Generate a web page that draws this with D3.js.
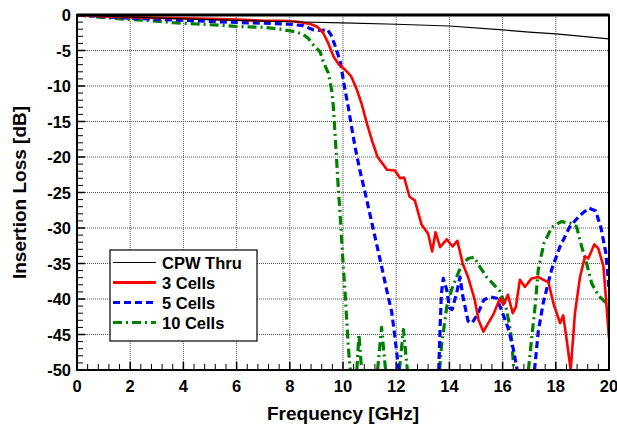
<!DOCTYPE html>
<html><head><meta charset="utf-8">
<script src="https://cdn.jsdelivr.net/npm/d3@7/dist/d3.min.js"></script>
<style>
body{margin:0;background:#fff;}
text{font-family:"Liberation Sans",Arial,sans-serif;font-weight:bold;}
</style></head><body>
<svg id="c" width="617" height="425"></svg>
<script>
const xTicks = [0,2,4,6,8,10,12,14,16,18,20];
const yTicks = [0,-5,-10,-15,-20,-25,-30,-35,-40,-45,-50];
const seriesNames = ["CPW Thru","3 Cells","5 Cells","10 Cells"];

const cpwThru = [[0,0],[1,-0.15],[2,-0.3],[4,-0.55],[6,-0.75],[8,-0.95],[10,-1.1],[12,-1.3],[14,-1.55],[16,-2.1],[17,-2.4],[18,-2.65],[19,-3.0],[20,-3.35]];

const cells3 = [[0,0],[0.5,-0.1],[1,-0.2],[2,-0.3],[3,-0.4],[4,-0.45],[5,-0.55],[6,-0.65],[7,-0.8],[7.8,-0.8],[8.3,-0.95],[8.8,-1.3],[9.05,-1.7],[9.25,-2.5],[9.45,-4.0],[9.65,-5.9],[9.85,-7.0],[10.05,-7.6],[10.3,-8.6],[10.5,-10.3],[10.7,-12.5],[10.9,-15.3],[11.1,-17.8],[11.3,-20.0],[11.5,-21.0],[11.65,-21.8],[11.95,-21.9],[12.15,-23],[12.3,-22.9],[12.5,-25.6],[12.7,-26.1],[12.95,-29.5],[13.2,-30.8],[13.35,-33.3],[13.48,-30.6],[13.65,-32.7],[13.9,-31.6],[14.12,-32.6],[14.3,-31.8],[14.5,-35],[14.7,-36.9],[14.95,-40.1],[15.1,-43],[15.28,-44.6],[15.46,-43.4],[15.65,-42.2],[15.9,-39.9],[16.03,-40.8],[16.2,-39.4],[16.38,-42],[16.5,-41.1],[16.65,-37.3],[16.84,-38.3],[17.09,-37.1],[17.34,-36.9],[17.53,-37.3],[17.72,-37.6],[17.91,-40.6],[18.16,-43.4],[18.28,-42.3],[18.41,-45.8],[18.56,-50],[18.72,-42],[18.91,-36.9],[19.1,-34],[19.22,-34.3],[19.45,-32.3],[19.6,-32.9],[19.79,-35.4],[19.91,-41.1],[20,-45.5]];

const cells5 = [[0,0],[1,-0.25],[2,-0.45],[3,-0.6],[4,-0.75],[5,-0.9],[6,-1.05],[7,-1.15],[8,-1.3],[8.5,-1.5],[8.9,-2.1],[9.2,-2.2],[9.4,-2.0],[9.55,-2.8],[9.7,-4.3],[9.9,-6.6],[10.05,-10],[10.2,-13],[10.3,-15.3],[10.45,-18.5],[10.64,-22],[10.83,-25],[11.02,-28.2],[11.2,-31.2],[11.45,-35.4],[11.64,-38.7],[11.83,-41.8],[11.95,-45.3],[12.08,-49.5],[12.12,-50],null,
  [13.6,-50],[13.65,-44],[13.7,-39.2],[13.77,-37.1],[13.9,-38.7],[14.0,-41.2],[14.1,-41.5],[14.27,-39.2],[14.4,-36.9],[14.5,-39.5],[14.7,-43.1],[14.85,-43.4],[15.05,-42.2],[15.3,-40.1],[15.55,-39.7],[15.78,-39.9],[15.95,-41.5],[16.2,-44],[16.4,-47],[16.55,-50],null,
  [17.2,-50],[17.34,-44.6],[17.53,-40.5],[17.84,-35.9],[18.16,-32.6],[18.53,-29.8],[18.91,-28.2],[19.25,-27.2],[19.5,-27.6],[19.7,-30],[19.88,-33.5],[20,-38.5]];

const cells10 = [[0,0],[0.5,-0.2],[1.87,-0.6],[2.74,-0.8],[3.62,-1.08],[4.5,-1.27],[5.38,-1.45],[6.13,-1.64],[7.0,-1.73],[7.63,-2.0],[8.13,-2.3],[8.5,-2.7],[8.7,-3.3],[8.88,-4.2],[9.14,-5.2],[9.26,-6.6],[9.45,-8.2],[9.57,-10.5],[9.64,-13],[9.7,-16.7],[9.76,-20.4],[9.82,-24.2],[9.89,-27.9],[9.95,-31.7],[10.01,-35.4],[10.08,-39.2],[10.14,-43],[10.2,-46.7],[10.26,-49.5],[10.28,-50],null,
  [10.52,-50],[10.6,-45],[10.7,-50],null,
  [11.3,-50],[11.45,-44],[11.6,-50],null,
  [12.12,-50],[12.27,-44.3],[12.42,-50],null,
  [13.63,-50],[13.7,-46.7],[13.9,-41.1],[14.08,-38.7],[14.27,-36.9],[14.46,-35.2],[14.7,-34.3],[14.93,-34.1],[15.15,-35.5],[15.4,-36.9],[15.65,-37.9],[15.9,-38.9],[16.12,-41],[16.25,-43.5],[16.35,-46],[16.42,-50],null,
  [16.97,-50],[17.1,-45.3],[17.22,-41.1],[17.34,-35.9],[17.55,-32.2],[17.85,-29.9],[18.2,-29.1],[18.53,-29.3],[18.78,-29.8],[18.97,-32.6],[19.16,-35],[19.35,-37.8],[19.6,-39.5],[19.85,-40.4],[20,-40.7]];

const svg = d3.select("#c");
const W = 617, H = 425;
const m = {l:77, r:8, t:15, b:55};
const x = d3.scaleLinear().domain([0,20]).range([m.l, W-m.r]);
const y = d3.scaleLinear().domain([-50,0]).range([H-m.b, m.t]);

svg.append("defs").append("clipPath").attr("id","pc").append("rect")
  .attr("x",m.l).attr("y",m.t).attr("width",W-m.l-m.r).attr("height",H-m.t-m.b);

const g = svg.append("g");
g.selectAll(".vg").data(xTicks.slice(1,-1)).join("line")
  .attr("x1",d=>x(d)).attr("x2",d=>x(d)).attr("y1",m.t).attr("y2",H-m.b)
  .attr("stroke","#555").attr("stroke-width",1).attr("stroke-dasharray","1,1");
g.selectAll(".hg").data(yTicks.slice(1,-1)).join("line")
  .attr("y1",d=>y(d)).attr("y2",d=>y(d)).attr("x1",m.l).attr("x2",W-m.r)
  .attr("stroke","#555").attr("stroke-width",1).attr("stroke-dasharray","1,1");

const yMinor = d3.range(-49,0,1).filter(v=>v%5!==0);
svg.append("g").selectAll("line").data(yMinor).join("line")
  .attr("x1",m.l).attr("x2",m.l+6).attr("y1",d=>y(d)).attr("y2",d=>y(d))
  .attr("stroke","#000").attr("stroke-width",1);
const xMinor = d3.range(0.4,20,0.4).filter(v=>Math.abs(v/2-Math.round(v/2))>0.01);
svg.append("g").selectAll("line").data(xMinor).join("line")
  .attr("y1",H-m.b).attr("y2",H-m.b-6).attr("x1",d=>x(d)).attr("x2",d=>x(d))
  .attr("stroke","#000").attr("stroke-width",1);
svg.append("g").selectAll("line").data(xTicks).join("line")
  .attr("y1",H-m.b).attr("y2",H-m.b-8).attr("x1",d=>x(d)).attr("x2",d=>x(d))
  .attr("stroke","#000").attr("stroke-width",1.5);
svg.append("g").selectAll("line").data(yTicks).join("line")
  .attr("x1",m.l).attr("x2",m.l+8).attr("y1",d=>y(d)).attr("y2",d=>y(d))
  .attr("stroke","#000").attr("stroke-width",1.5);

const line = d3.line().defined(d=>d!==null).x(d=>x(d[0])).y(d=>y(d[1]));
const pg = svg.append("g").attr("clip-path","url(#pc)");
const styles = [
  {data:cpwThru, color:"#000", w:1.2, dash:null},
  {data:cells3, color:"#ff0000", w:2.6, dash:null},
  {data:cells5, color:"#0000ff", w:3.2, dash:"7,4"},
  {data:cells10, color:"#008000", w:3.2, dash:"9,4,2,4"}
];
[styles[3],styles[2],styles[1],styles[0]].forEach(s=>{
  pg.append("path").datum(s.data).attr("d",line).attr("fill","none")
    .attr("stroke",s.color).attr("stroke-width",s.w)
    .attr("stroke-dasharray",s.dash).attr("stroke-linejoin","round");
});

svg.append("rect").attr("x",m.l).attr("y",m.t).attr("width",W-m.l-m.r).attr("height",H-m.t-m.b)
  .attr("fill","none").attr("stroke","#000").attr("stroke-width",2);
svg.append("line").attr("x1",m.l).attr("x2",W-m.r).attr("y1",m.t).attr("y2",m.t)
  .attr("stroke","#000").attr("stroke-width",3);

svg.append("g").selectAll("text").data(xTicks).join("text")
  .attr("x",d=>x(d)).attr("y",H-m.b+22).attr("text-anchor","middle")
  .attr("font-size",16.5).text(d=>d);
svg.append("g").selectAll("text").data(yTicks).join("text")
  .attr("x",m.l-6).attr("y",d=>y(d)+6).attr("text-anchor","end")
  .attr("font-size",16.5).text(d=>d);

svg.append("text").attr("x",(m.l+W-m.r)/2).attr("y",H-5).attr("text-anchor","middle")
  .attr("font-size",19).text("Frequency [GHz]");
svg.append("text").attr("transform",`translate(26,${(m.t+H-m.b)/2}) rotate(-90)`)
  .attr("text-anchor","middle").attr("font-size",19).text("Insertion Loss [dB]");

const lg = svg.append("g");
lg.append("rect").attr("x",110).attr("y",250).attr("width",147).attr("height",91)
  .attr("fill","#fff").attr("stroke","#000").attr("stroke-width",1.2);
styles.forEach((s,i)=>{
  const yy = 262.5 + i*20;
  lg.append("line").attr("x1",113).attr("x2",156).attr("y1",yy).attr("y2",yy)
    .attr("stroke",s.color).attr("stroke-width",i===0?1.2:3).attr("stroke-dasharray",s.dash);
  lg.append("text").attr("x",162).attr("y",yy+6).attr("font-size",16.5).text(seriesNames[i]);
});
</script></body></html>
